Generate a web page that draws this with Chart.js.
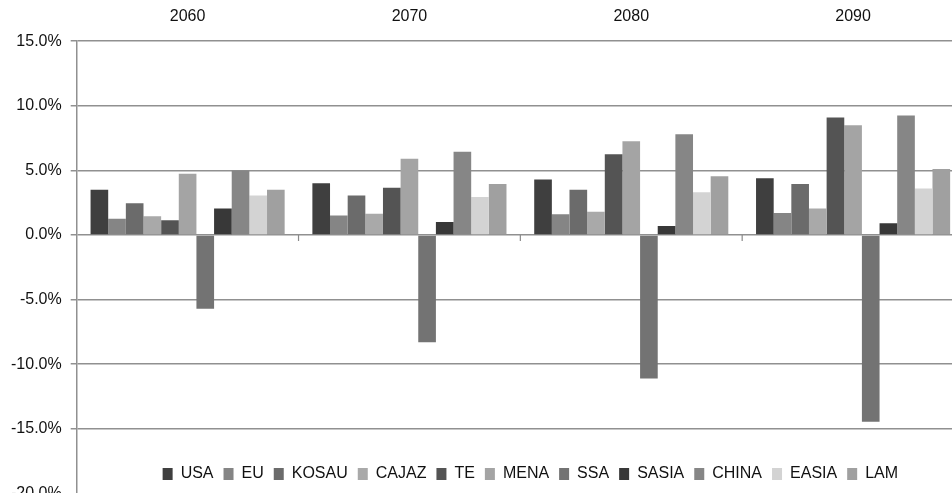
<!DOCTYPE html>
<html>
<head>
<meta charset="utf-8">
<script src="https://cdn.jsdelivr.net/npm/chart.js@4/dist/chart.umd.min.js"></script>
<style>
  html, body { margin: 0; padding: 0; background: #fff; overflow: hidden; }
  canvas { display: block; }
</style>
</head>
<body>
<canvas id="grafico" width="974" height="512"></canvas>
<script>
const years = ['2060', '2070', '2080', '2090'];
const regions = ['USA', 'EU', 'KOSAU', 'CAJAZ', 'TE', 'MENA', 'SSA', 'SASIA', 'CHINA', 'EASIA', 'LAM'];

const usa = [3.5, 4.0, 4.3, 4.4];
const eu = [1.25, 1.5, 1.6, 1.7];
const kosau = [2.45, 3.05, 3.5, 3.95];
const cajaz = [1.45, 1.65, 1.8, 2.05];
const te = [1.15, 3.65, 6.25, 9.1];
const mena = [4.75, 5.9, 7.25, 8.5];
const ssa = [-5.7, -8.3, -11.1, -14.45];
const sasia = [2.05, 1.0, 0.7, 0.9];
const china = [5.0, 6.45, 7.8, 9.25];
const easia = [3.05, 2.95, 3.3, 3.6];
const lam = [3.5, 3.95, 4.55, 5.1];

const yTicks = [15, 10, 5, 0, -5, -10, -15, -20];

const values = [usa, eu, kosau, cajaz, te, mena, ssa, sasia, china, easia, lam];
const grays = ['#3f3f3f', '#858585', '#6b6b6b', '#a9a9a9', '#545454', '#a4a4a4',
               '#737373', '#383838', '#868686', '#d3d3d3', '#a0a0a0'];

// legend sits inside the plot, near the bottom (like the original)
const legendInside = {
  id: 'legendInside',
  afterLayout(chart) {
    const lg = chart.legend;
    const area = chart.chartArea;
    const pad = lg.options.labels.padding;
    const yc = chart.scales.y.getPixelForValue(-18.5);
    lg.left = area.left + 10;
    lg.right = area.right + 10;
    lg.width = lg.right - lg.left;
    lg.top = yc - 16 / 2 - pad;
    lg.bottom = lg.top + 45;
    lg.height = 45;
  },
  afterDraw(chart) {
    // little marks on the 0% line between the year groups
    const ctx = chart.ctx;
    const x = chart.scales.x;
    const y0 = chart.scales.y.getPixelForValue(0);
    ctx.save();
    ctx.strokeStyle = '#8a8a8a';
    ctx.lineWidth = 1.2;
    for (let i = 0; i < years.length - 1; i++) {
      const xb = (x.getPixelForValue(i) + x.getPixelForValue(i + 1)) / 2;
      ctx.beginPath();
      ctx.moveTo(xb, y0);
      ctx.lineTo(xb, y0 + 6);
      ctx.stroke();
    }
    ctx.restore();
  }
};

const ctx = document.getElementById('grafico').getContext('2d');
new Chart(ctx, {
  type: 'bar',
  data: {
    labels: years,
    datasets: regions.map((r, i) => ({
      label: r,
      data: values[i],
      backgroundColor: grays[i],
      borderColor: grays[i],
      borderWidth: 0,
      categoryPercentage: 0.875,
      barPercentage: 1.0
    }))
  },
  options: {
    responsive: false,
    animation: false,
    layout: { padding: { left: 2, right: 10, top: -8, bottom: 0 } },
    plugins: {
      tooltip: { enabled: false },
      legend: {
        position: 'bottom',
        maxHeight: 1,
        labels: {
          boxWidth: 10,
          boxHeight: 12,
          padding: 10,
          color: '#111',
          font: { family: 'Liberation Sans', size: 16 }
        }
      }
    },
    scales: {
      x: {
        position: 'top',
        grid: { display: false, drawTicks: false },
        border: { display: false },
        ticks: {
          padding: 15,
          color: '#111',
          font: { family: 'Liberation Sans', size: 16 }
        }
      },
      y: {
        min: -20,
        max: 15,
        afterBuildTicks(axis) { axis.ticks = yTicks.map(v => ({ value: v })); },
        grid: { color: '#909090', lineWidth: 1.5, tickLength: 6 },
        border: { color: '#909090', width: 1.5 },
        ticks: {
          padding: 9,
          color: '#111',
          font: { family: 'Liberation Sans', size: 16 },
          callback: v => v.toFixed(1) + '%'
        }
      }
    }
  },
  plugins: [legendInside]
});
</script>
</body>
</html>
